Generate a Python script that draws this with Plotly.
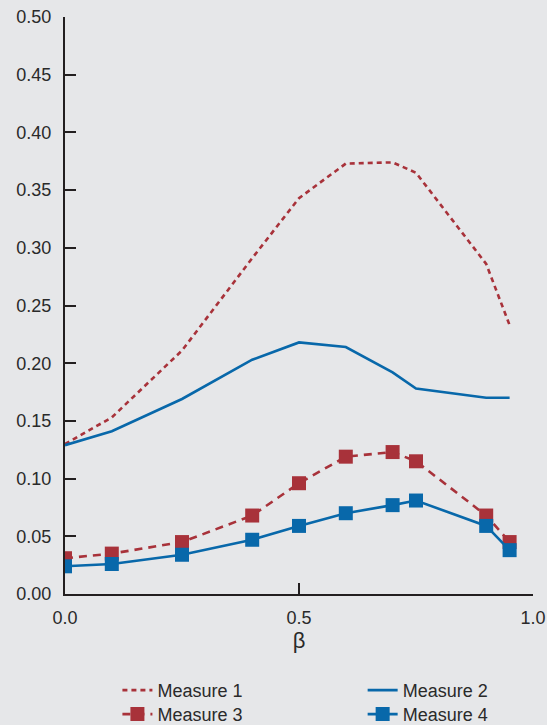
import plotly.graph_objects as go

beta = [0.0, 0.1, 0.25, 0.4, 0.5, 0.6, 0.7, 0.75, 0.9, 0.95]
measure1 = [0.130, 0.153, 0.211, 0.291, 0.343, 0.373, 0.374, 0.365, 0.286, 0.233]
measure2 = [0.129, 0.141, 0.169, 0.203, 0.218, 0.214, 0.192, 0.178, 0.170, 0.170]
measure3 = [0.031, 0.035, 0.045, 0.068, 0.096, 0.119, 0.123, 0.115, 0.068, 0.045]
measure4 = [0.024, 0.026, 0.034, 0.047, 0.059, 0.070, 0.077, 0.081, 0.059, 0.038]

x_ticks = [0.0, 0.5, 1.0]
x_tick_labels = ["0.0", "0.5", "1.0"]
y_ticks = [0.0, 0.05, 0.10, 0.15, 0.20, 0.25, 0.30, 0.35, 0.40, 0.45, 0.50]
y_tick_labels = ["0.00", "0.05", "0.10", "0.15", "0.20", "0.25", "0.30", "0.35", "0.40", "0.45", "0.50"]

RED = "#a8323a"
BLUE = "#0868aa"
BG = "#e6e7e9"
TXT = "#2a2a2a"
AX = "#231f20"
FONT = "Liberation Sans, Arial, sans-serif"

fig = go.Figure()
fig.add_trace(go.Scatter(x=beta, y=measure1, mode="lines", name="Measure 1", legend="legend",
                         line=dict(color=RED, width=2.6, dash="5px,4px")))
fig.add_trace(go.Scatter(x=beta, y=measure2, mode="lines", name="Measure 2", legend="legend2",
                         line=dict(color=BLUE, width=2.6)))
fig.add_trace(go.Scatter(x=beta, y=measure3, mode="lines+markers", name="Measure 3", legend="legend3",
                         line=dict(color=RED, width=2.6, dash="8px,6px"),
                         marker=dict(symbol="square", size=14, color=RED)))
fig.add_trace(go.Scatter(x=beta, y=measure4, mode="lines+markers", name="Measure 4", legend="legend4",
                         line=dict(color=BLUE, width=2.6),
                         marker=dict(symbol="square", size=14, color=BLUE)))

leg_common = dict(orientation="v", xanchor="left", yanchor="top",
                  bgcolor="rgba(0,0,0,0)", font=dict(size=18, color=TXT))
row1 = -0.135
row2 = -0.135 - 24 / 577

fig.update_layout(
    width=547, height=725,
    paper_bgcolor=BG, plot_bgcolor=BG,
    margin=dict(l=65, r=14, t=17, b=131, autoexpand=False),
    font=dict(family=FONT, size=18, color=TXT),
    showlegend=True,
    legend=dict(x=0.112, y=row1, **leg_common),
    legend2=dict(x=0.636, y=row1, **leg_common),
    legend3=dict(x=0.112, y=row2, **leg_common),
    legend4=dict(x=0.636, y=row2, **leg_common),
    xaxis=dict(range=[0, 1.0], tickvals=x_ticks, ticktext=x_tick_labels,
               showgrid=False, zeroline=False, showline=True, linecolor=AX,
               linewidth=2, ticks="inside", ticklen=11, tickwidth=2, tickcolor=AX,
               ticklabelstandoff=6, automargin=False,
               title=dict(text="β", font=dict(size=22, color=TXT), standoff=4)),
    yaxis=dict(range=[0, 0.5], tickvals=y_ticks, ticktext=y_tick_labels,
               showgrid=False, zeroline=False, showline=True, linecolor=AX,
               linewidth=2, ticks="inside", ticklen=11, tickwidth=2, tickcolor=AX,
               ticklabelstandoff=8, automargin=False),
)

fig.write_html(
    "out.html",
    config={"displayModeBar": False},
    post_script="document.body.style.margin='0px';document.body.style.background='%s';" % BG,
)
